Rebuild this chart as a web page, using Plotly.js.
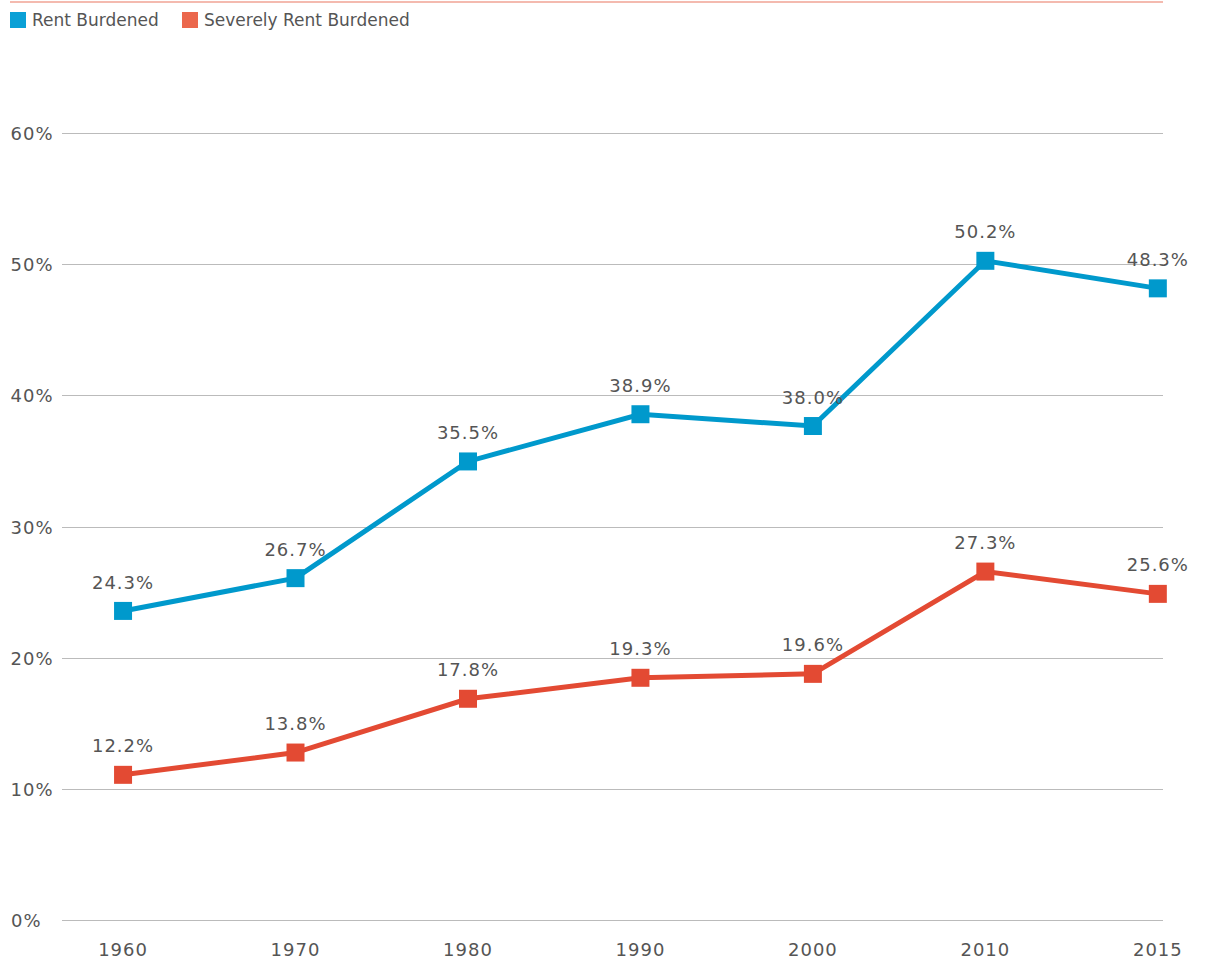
<!DOCTYPE html>
<html>
<head>
<meta charset="utf-8">
<script src="https://cdn.plot.ly/plotly-3.0.1.min.js"></script>
<style>
html,body{margin:0;padding:0;background:#fff;}
#chart .xtick text, #chart .textpoint text { letter-spacing: 1px; }
#chart .annotation[data-index="0"] text, #chart .annotation[data-index="1"] text,
#chart .annotation[data-index="2"] text, #chart .annotation[data-index="3"] text,
#chart .annotation[data-index="4"] text, #chart .annotation[data-index="5"] text,
#chart .annotation[data-index="6"] text { letter-spacing: 1px; }
</style>
</head>
<body>
<div id="chart" style="width:1205px;height:960px;"></div>
<script>
const years = ["1960","1970","1980","1990","2000","2010","2015"];
const seriesNames = ["Rent Burdened","Severely Rent Burdened"];
const rentBurdened = [23.6, 26.1, 35.0, 38.6, 37.7, 50.3, 48.2];
const rentBurdenedLabels = ["24.3%","26.7%","35.5%","38.9%","38.0%","50.2%","48.3%"];
const severelyBurdened = [11.1, 12.8, 16.9, 18.5, 18.8, 26.6, 24.9];
const severelyBurdenedLabels = ["12.2%","13.8%","17.8%","19.3%","19.6%","27.3%","25.6%"];
const yTicks = [0,10,20,30,40,50,60];
const yTickLabels = ["0%","10%","20%","30%","40%","50%","60%"];

const blue = "#0099CC", red = "#E34A33";
const legendBlue = "#0AA0D6", legendRed = "#EB674C";
const textColor = "#555555";
const font = "DejaVu Sans, sans-serif";

function line(y, color, name) {
  return {
    type: "scatter", mode: "lines+markers", x: years, y: y, name: name,
    line: {color: color, width: 5},
    marker: {symbol: "square", size: 18, color: color},
    cliponaxis: false, showlegend: false, hoverinfo: "skip"
  };
}
function labels(y, text, name) {
  return {
    type: "scatter", mode: "markers+text", x: years, y: y, name: name,
    text: text, textposition: "top center",
    textfont: {family: font, size: 18, color: textColor},
    marker: {symbol: "square", size: 27, color: "rgba(0,0,0,0)"},
    cliponaxis: false, showlegend: false, hoverinfo: "skip"
  };
}

const data = [
  line(rentBurdened, blue, seriesNames[0]),
  line(severelyBurdened, red, seriesNames[1]),
  labels(rentBurdened, rentBurdenedLabels, seriesNames[0]),
  labels(severelyBurdened, severelyBurdenedLabels, seriesNames[1])
];

const L = 62, R = 42, T = 131, B = 37;
const W = 1205 - L - R, H = 960 - T - B;
const px = x => (x - L) / W;
const py = y => (960 - B - y) / H;

const annotations = yTicks.map((v, i) => ({
  xref: "paper", yref: "y", x: px(10), y: v, text: yTickLabels[i],
  xanchor: "left", yanchor: "middle", showarrow: false,
  font: {family: font, size: 18, color: textColor}
}));
annotations.push(
  {xref:"paper", yref:"paper", x: px(30), y: py(20), text: seriesNames[0], xanchor:"left", yanchor:"middle", showarrow:false, font:{family:font, size:17, color:textColor}},
  {xref:"paper", yref:"paper", x: px(202), y: py(20), text: seriesNames[1], xanchor:"left", yanchor:"middle", showarrow:false, font:{family:font, size:17, color:textColor}}
);

const shapes = [
  {type:"line", xref:"paper", yref:"paper", x0: px(10), x1: px(1163), y0: py(2), y1: py(2), line:{color:"#F0A394", width:1.5}},
  {type:"rect", xref:"paper", yref:"paper", x0: px(10), x1: px(26), y0: py(28), y1: py(12), fillcolor: legendBlue, line:{width:0}},
  {type:"rect", xref:"paper", yref:"paper", x0: px(182), x1: px(198), y0: py(28), y1: py(12), fillcolor: legendRed, line:{width:0}}
];

const layout = {
  width: 1205, height: 960,
  margin: {l: L, r: R, t: T, b: B},
  paper_bgcolor: "#fff", plot_bgcolor: "#fff",
  showlegend: false,
  xaxis: {
    type: "category", range: [-0.354, 6.03], showgrid: false, zeroline: false,
    showline: false, ticks: "", ticklabelstandoff: 14,
    tickfont: {family: font, size: 18, color: textColor}, fixedrange: true
  },
  yaxis: {
    range: [-0.2, 60.2], tickvals: yTicks, showticklabels: false, showgrid: true,
    gridcolor: "#BBBBBB", gridwidth: 1, zeroline: false, showline: false, fixedrange: true
  },
  annotations: annotations,
  shapes: shapes
};

Plotly.newPlot("chart", data, layout, {displayModeBar: false, staticPlot: true});
</script>
</body>
</html>
